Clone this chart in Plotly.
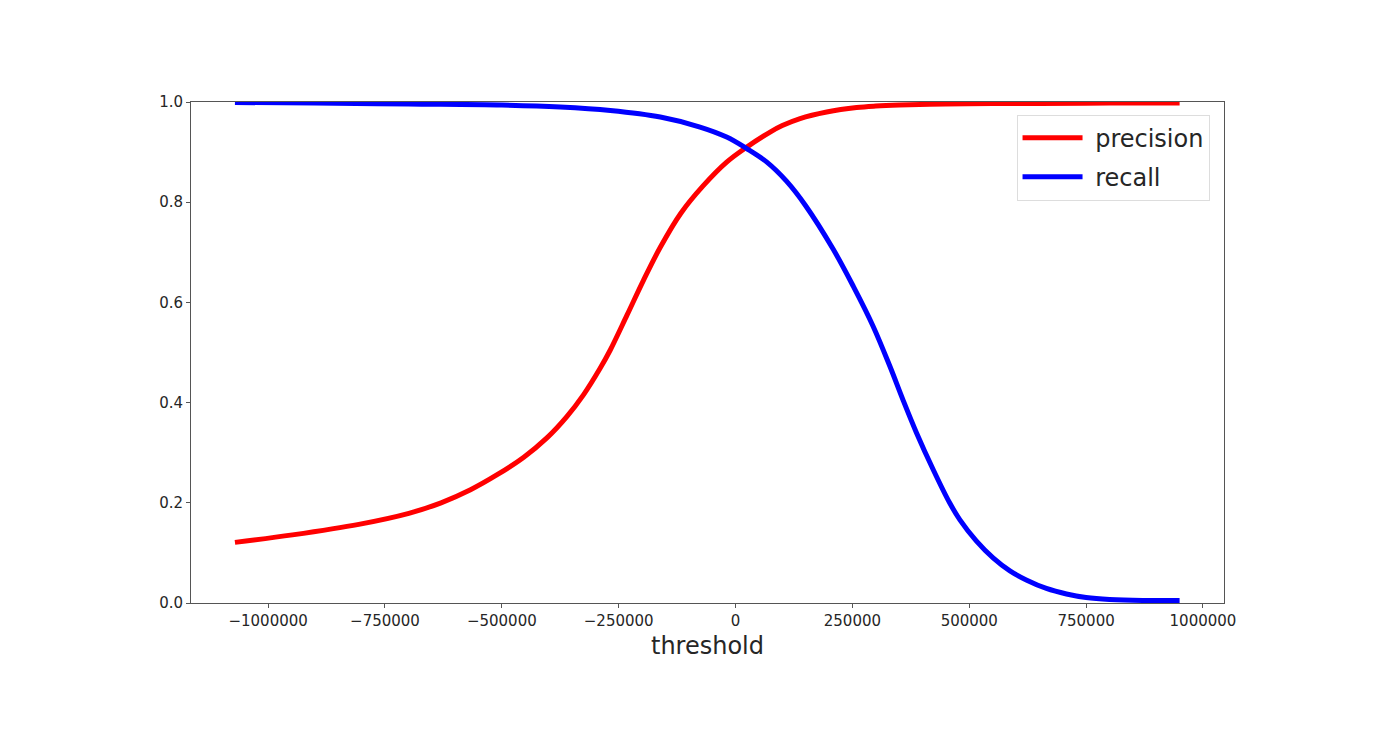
import plotly.graph_objects as go

# precision / recall vs decision threshold
prec_thr = [-1071000, -948000, -806000, -699000, -630000, -567000, -510000, -453000,
            -403000, -361000, -325000, -290000, -268000, -232000, -197000, -161000,
            -117000, -69000, -19000, 24000, 74000, 100000, 138000, 195000, 259000,
            300000, 350000, 450000, 550000, 650000, 800000, 950000]
precision = [0.121, 0.136, 0.157, 0.179, 0.200, 0.226, 0.256, 0.291,
             0.330, 0.372, 0.416, 0.468, 0.505, 0.575, 0.644, 0.710,
             0.778, 0.833, 0.880, 0.910, 0.940, 0.953, 0.967, 0.980, 0.989,
             0.992, 0.994, 0.996, 0.997, 0.997, 0.998, 0.998]

rec_thr = [-1071000, -900000, -700000, -500000, -375000, -268000, -161000, -76000,
           -19000, 24000, 67000, 109000, 150000, 209000, 252000, 294000, 330000,
           358000, 387000, 423000, 458000, 480000, 515000, 551000, 587000, 622000,
           665000, 708000, 750000, 800000, 871000, 950000]
recall = [0.999, 0.998, 0.996, 0.994, 0.990, 0.983, 0.970, 0.950,
          0.930, 0.907, 0.880, 0.842, 0.793, 0.706, 0.632, 0.553, 0.473,
          0.406, 0.340, 0.266, 0.200, 0.166, 0.124, 0.090, 0.064, 0.046,
          0.029, 0.018, 0.011, 0.007, 0.005, 0.005]

x_ticks = [-1000000, -750000, -500000, -250000, 0, 250000, 500000, 750000, 1000000]
x_labels = ['\u22121000000', '\u2212750000', '\u2212500000', '\u2212250000', '0',
            '250000', '500000', '750000', '1000000']
y_ticks = [0.0, 0.2, 0.4, 0.6, 0.8, 1.0]

fig = go.Figure()
fig.add_trace(go.Scatter(x=prec_thr, y=precision, name='\u00a0precision', mode='lines',
                         legendgroup='p',
                         line=dict(color='red', width=5, shape='spline', smoothing=1.0)))
fig.add_trace(go.Scatter(x=rec_thr, y=recall, name='\u00a0recall', mode='lines',
                         legendgroup='r',
                         line=dict(color='blue', width=5, shape='spline', smoothing=1.0)))

axis_style = dict(showgrid=False, zeroline=False, showline=True, linecolor='#555',
                  linewidth=1, mirror=True, ticks='outside', ticklen=4,
                  tickcolor='#555', tickfont=dict(size=15, color='#262626'))

fig.update_layout(
    width=1400, height=739,
    margin=dict(l=183, r=184, t=94, b=144),
    paper_bgcolor='white', plot_bgcolor='white',
    font=dict(family='DejaVu Sans', color='#262626'),
    xaxis=dict(range=[-1165000, 1045000], tickvals=x_ticks, ticktext=x_labels,
               title=dict(text='threshold', font=dict(size=24), standoff=8),
               **axis_style),
    yaxis=dict(range=[0, 1], tickvals=y_ticks, tickformat='.1f', **axis_style),
    legend=dict(x=0.986, y=0.975, xanchor='right', yanchor='top',
                bgcolor='white', bordercolor='#dddddd', borderwidth=1,
                font=dict(size=24, color='#262626'), itemwidth=60,
                tracegroupgap=5),
    showlegend=True,
)

fig.write_html("out.html")
